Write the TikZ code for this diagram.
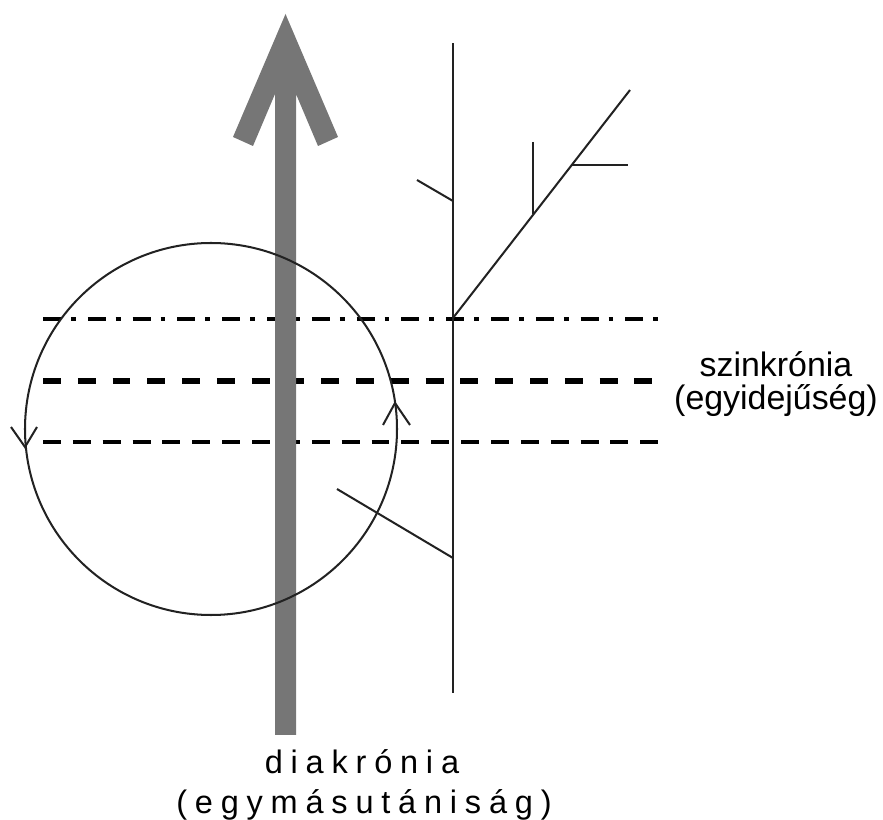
\documentclass[tikz,border=0pt]{standalone}
\usepackage{fontspec}
\setmainfont{Liberation Sans}
\definecolor{inkgray}{RGB}{34,34,34}
\definecolor{arrowgray}{RGB}{118,118,118}

\begin{document}
\begin{tikzpicture}[x=0.02cm,y=-0.02cm,
        thin line/.style={inkgray, line width=1.15pt},
        sync line/.style={black, line width=2.3pt},
        label text/.style={inner sep=0pt, anchor=base}]
    \useasboundingbox (0,0) rectangle (883,820);
    % szinkron metszetek
    \draw[sync line, dash pattern=on 10.2pt off 5.7pt on 2.8pt off 6.8pt] (43,319) -- (660,319);
    \draw[black, line width=3.4pt, dash pattern=on 10.2pt off 9.6pt] (43,381) -- (660,381);
    \draw[sync line, dash pattern=on 10.2pt off 6.8pt] (43,442) -- (660,442);
    % diakron nyil
    \fill[arrowgray] (285.5,14) -- (233,137) -- (253,146) -- (275,94) -- (275,735)
        -- (296,735) -- (296,94) -- (318,146) -- (338,137) -- cycle;
    % korforgas
    \draw[thin line] (211,429) circle[radius=186];
    \draw[thin line] (11,427) -- (25,447) -- (37,427);
    \draw[thin line] (383,425) -- (395,403) -- (410,425);
    % fa
    \coordinate (root) at (453,693);
    \coordinate (top) at (453,43);
    \draw[thin line] (root) -- (top);
    \draw[thin line] (453,318) -- (630,90);
    \draw[thin line] (533,142) -- (533,214);
    \draw[thin line] (572,165) -- (628,165);
    \draw[thin line] (453,201) -- (417,180);
    \draw[thin line] (453,558) -- (337,489);
    % feliratok
    \node[label text, font=\fontsize{18.5pt}{22pt}\selectfont\addfontfeature{LetterSpace=24}]
        (diachr) at (362,774) {diakrónia};
    \node[label text, font=\fontsize{18.5pt}{22pt}\selectfont\addfontfeature{LetterSpace=24}]
        (diachrsub) at (364,813) {(egymásutániság)};
    \node[label text, font=\fontsize{19.3pt}{23pt}\selectfont]
        (synchr) at (776,377) {szinkrónia};
    \node[label text, font=\fontsize{19.3pt}{23pt}\selectfont]
        (synchrsub) at (776,410) {(egyidejűség)};
\end{tikzpicture}
\end{document}
